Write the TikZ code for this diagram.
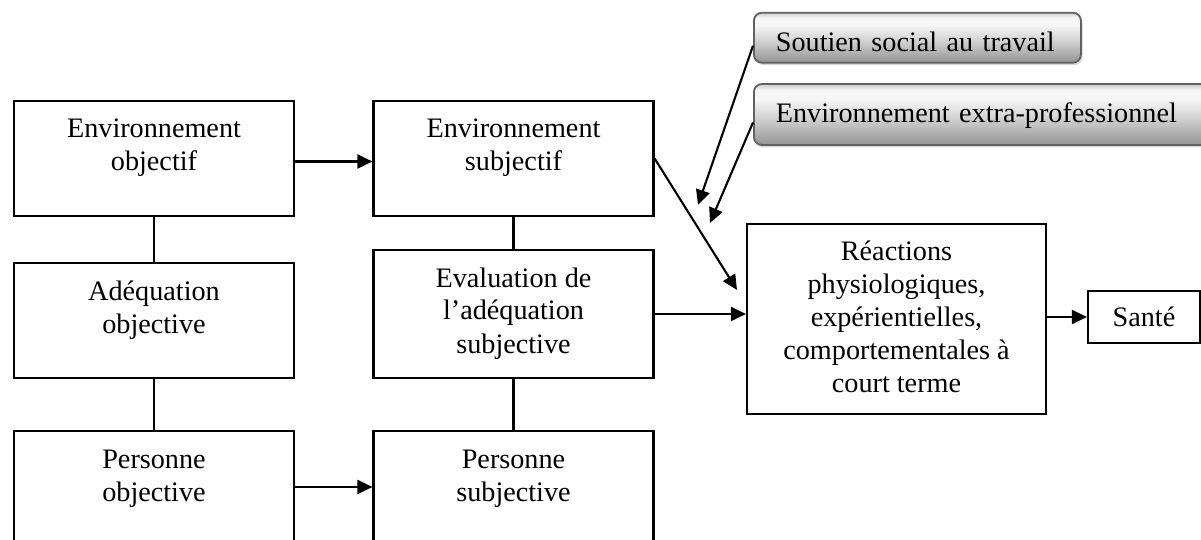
\documentclass[tikz,border=0pt]{standalone}
\usepackage{fontspec}
\setmainfont{Liberation Serif}
\usetikzlibrary{arrows.meta,shadows,calc}
\definecolor{btnbot}{gray}{0.58}
\definecolor{btnmid}{gray}{0.80}
\definecolor{btnhi}{gray}{0.97}
\definecolor{btntop}{gray}{0.80}
\definecolor{btnline}{gray}{0.38}
\pgfdeclareverticalshading{btnshade}{100bp}{color(0bp)=(btnbot); color(25bp)=(btnbot); color(45bp)=(btnmid); color(63bp)=(btnhi); color(70bp)=(btnhi); color(75bp)=(btntop); color(100bp)=(btntop)}
\newcommand\bxt[3]{\begin{minipage}[t][#2][t]{#1}\centering\rule{0pt}{18.5pt}#3\end{minipage}}
\tikzset{
  mbox/.style={draw, line width=1.1pt, inner sep=0pt, font=\fontsize{14.1}{16.5}\selectfont},
  conn/.style={line width=1.05pt},
  arr/.style={line width=1.05pt, -{Triangle[length=7.5pt,width=7pt]}},
  gbox/.style={draw=btnline, line width=0.9pt, rounded corners=4pt, shade, shading=btnshade,
    anchor=west, inner ysep=0pt, inner xsep=11pt, align=left,
    font=\fontsize{14.1}{16.5}\selectfont,
    drop shadow={opacity=0.3, shadow xshift=0.8pt, shadow yshift=-1.2pt}}
}
\begin{document}
\begin{tikzpicture}[x=0.5pt,y=-0.5pt]
\fill[white] (0,0) rectangle (1201,540);
\useasboundingbox (0,0) rectangle (1201,540);
\begin{scope}
\clip (0,0) rectangle (1201,540);
% left column
\node[mbox] (envobj) at (154,158.5) {\bxt{140pt}{57.5pt}{Environnement\\objectif}};
\node[mbox] (adeq) at (154,320.5) {\bxt{140pt}{57.5pt}{Adéquation\\objective}};
\node[mbox] (persobj) at (154,487) {\bxt{140pt}{56pt}{Personne\\objective}};
% middle column
\node[mbox] (envsubj) at (513.5,158.5) {\bxt{140pt}{57.5pt}{Environnement\\subjectif}};
\node[mbox] (eval) at (513.5,314) {\bxt{140pt}{64pt}{Evaluation de\\l’adéquation\\subjective}};
\node[mbox] (perssubj) at (513.5,487) {\bxt{140pt}{56pt}{Personne\\subjective}};
% right
\node[mbox] (reac) at (896.5,319) {\bxt{149.5pt}{95pt}{Réactions\\physiologiques,\\expérientielles,\\comportementales à\\court terme}};
\node[mbox, minimum width=56pt, minimum height=26pt] (sante) at (1144,317) {Santé};
% grey boxes
\node[gbox, minimum height=25pt, text width=141.5pt, text height=16pt, text depth=2pt] (soutien) at (753,37.7) {Soutien social au travail};
\node[gbox, minimum height=30.5pt, text width=209pt, text height=10pt, text depth=2pt] (extra) at (753,114.5) {Environnement extra-professionnel};
% free ends
\coordinate (t1) at (737,290);
\coordinate (t2) at (698,205);
\coordinate (t3) at (710,223);
% connectors
\draw[conn] (envobj.south) -- (adeq.north);
\draw[conn] (adeq.south) -- (persobj.north);
\draw[conn] (envsubj.south) -- (eval.north);
\draw[conn] (eval.south) -- (perssubj.north);
\draw[arr] ([yshift=-1.5pt]envobj.east) -- ([yshift=-1.5pt]envsubj.west);
\draw[arr] (persobj.east) -- (perssubj.west);
\draw[arr] (eval.east) -- (eval.east -| reac.west);
\draw[arr] (sante.west -| reac.east) -- (sante.west);
\draw[arr] (envsubj.east) -- (t1);
\draw[arr] ([yshift=-4pt]soutien.west) -- (t2);
\draw[arr] ([yshift=-4pt]extra.west) -- (t3);
\end{scope}
\end{tikzpicture}
\end{document}
